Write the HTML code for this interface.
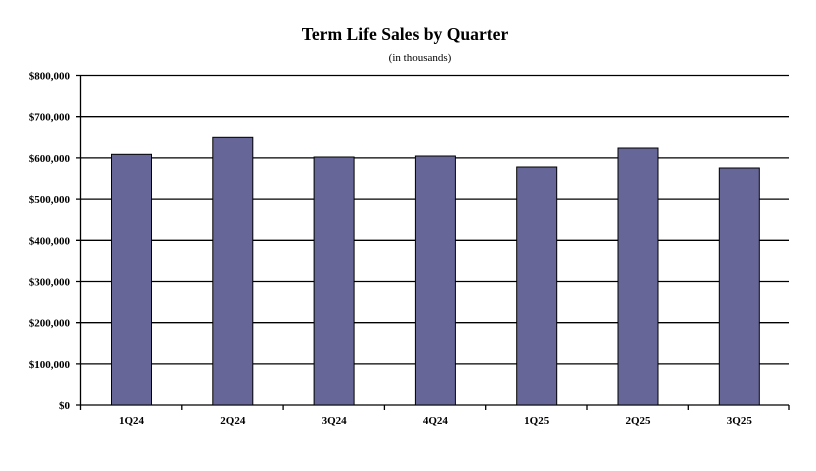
<!DOCTYPE html>
<html><head><style>body{margin:0;background:#fff}svg{display:block}</style></head><body>
<svg width="816" height="471" xmlns="http://www.w3.org/2000/svg" font-family="Liberation Serif, serif">
<rect width="816" height="471" fill="#fff"/>
<text x="405" y="40" text-anchor="middle" font-size="17.6" font-weight="bold">Term Life Sales by Quarter</text>
<text x="420" y="61" text-anchor="middle" font-size="11">(in thousands)</text>
<g stroke="#000" stroke-width="1.3">
<line x1="76" y1="75.5" x2="789" y2="75.5"/>
<line x1="76" y1="116.7" x2="789" y2="116.7"/>
<line x1="76" y1="157.9" x2="789" y2="157.9"/>
<line x1="76" y1="199.1" x2="789" y2="199.1"/>
<line x1="76" y1="240.3" x2="789" y2="240.3"/>
<line x1="76" y1="281.5" x2="789" y2="281.5"/>
<line x1="76" y1="322.7" x2="789" y2="322.7"/>
<line x1="76" y1="363.9" x2="789" y2="363.9"/>
<line x1="76" y1="405" x2="789" y2="405"/>
<line x1="80.5" y1="75" x2="80.5" y2="405"/>
</g>
<g fill="#666699" stroke="#000" stroke-width="1">
<rect x="111.5" y="154.3" width="40" height="250.7"/>
<rect x="212.8" y="137.3" width="40" height="267.7"/>
<rect x="314.1" y="157" width="40" height="248"/>
<rect x="415.4" y="156" width="40" height="249"/>
<rect x="516.7" y="167" width="40" height="238"/>
<rect x="618" y="148" width="40" height="257"/>
<rect x="719.3" y="168" width="40" height="237"/>
</g>
<g stroke="#000" stroke-width="1.3">
<line x1="80.5" y1="405" x2="80.5" y2="410"/>
<line x1="181.8" y1="405" x2="181.8" y2="410"/>
<line x1="283.1" y1="405" x2="283.1" y2="410"/>
<line x1="384.4" y1="405" x2="384.4" y2="410"/>
<line x1="485.7" y1="405" x2="485.7" y2="410"/>
<line x1="587" y1="405" x2="587" y2="410"/>
<line x1="688.3" y1="405" x2="688.3" y2="410"/>
<line x1="789" y1="405" x2="789" y2="410"/>
</g>
<g font-size="11" font-weight="bold" text-anchor="end">
<text x="70" y="79.5">$800,000</text>
<text x="70" y="120.7">$700,000</text>
<text x="70" y="161.9">$600,000</text>
<text x="70" y="203.1">$500,000</text>
<text x="70" y="244.3">$400,000</text>
<text x="70" y="285.5">$300,000</text>
<text x="70" y="326.7">$200,000</text>
<text x="70" y="367.9">$100,000</text>
<text x="70" y="409">$0</text>
</g>
<g font-size="11" font-weight="bold" text-anchor="middle">
<text x="131.5" y="424">1Q24</text>
<text x="232.8" y="424">2Q24</text>
<text x="334.1" y="424">3Q24</text>
<text x="435.4" y="424">4Q24</text>
<text x="536.7" y="424">1Q25</text>
<text x="638" y="424">2Q25</text>
<text x="739.3" y="424">3Q25</text>
</g>
</svg>
</body></html>
